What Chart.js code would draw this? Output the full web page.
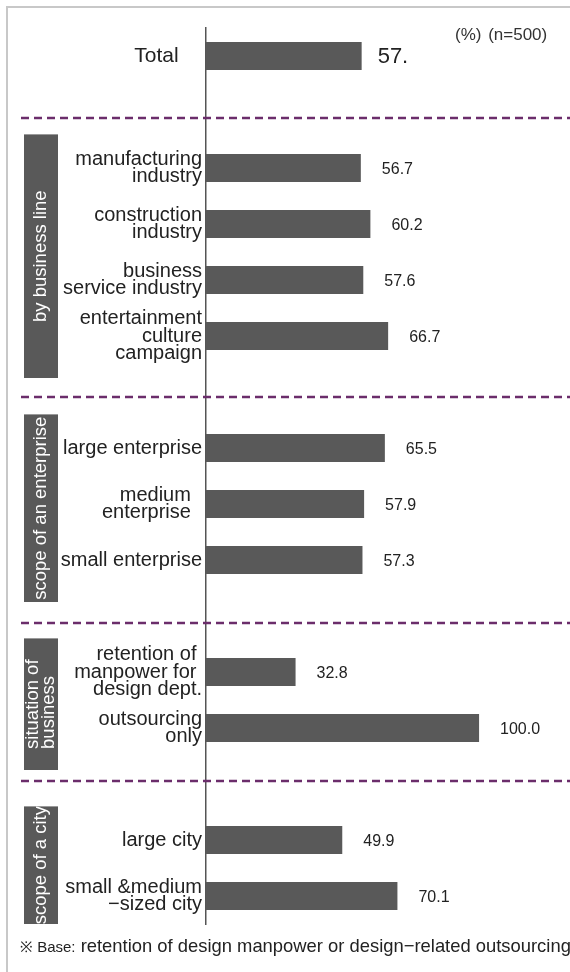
<!DOCTYPE html>
<html>
<head>
<meta charset="utf-8">
<script src="https://cdn.jsdelivr.net/npm/chart.js@4"></script>
<style>
  html, body { margin: 0; padding: 0; background: #fff; overflow: hidden; }
  #wrap { position: relative; width: 570px; height: 972px; }
  #unit { position: absolute; left: 455px; top: 25px; font: 17px "Liberation Sans", Arial, sans-serif; color: #333; word-spacing: 2px; }
  #note { position: absolute; left: 20px; top: 935px; font: 18.4px "Liberation Sans", Arial, sans-serif; color: #222; white-space: nowrap; }
  #note small { font-size: 15px; }
</style>
</head>
<body>
<div id="wrap">
  <canvas id="myChart" width="570" height="972"></canvas>
  <div id="unit">(%) (n=500)</div>
  <div id="note"><small>※ Base:</small> retention of design manpower or design−related outsourcing</div>
</div>
<script>
const NB = '\u00a0';

const categories = [
    ['Total' + NB + NB + NB + NB],
    '',
    ['manufacturing', 'industry'],
    ['construction', 'industry'],
    ['business', 'service industry'],
    ['entertainment', 'culture', 'campaign'],
    '',
    ['large enterprise'],
    ['medium' + NB + NB, 'enterprise' + NB + NB],
    ['small enterprise'],
    '',
    ['retention of' + NB, 'manpower for' + NB, 'design dept.'],
    ['outsourcing', 'only'],
    '',
    ['large city'],
    ['small &medium', '−sized city']
];

const values = [57, null, 56.7, 60.2, 57.6, 66.7, null, 65.5, 57.9, 57.3, null, 32.8, 100.0, null, 49.9, 70.1];

const shownValues = ['57.', '', '56.7', '60.2', '57.6', '66.7', '', '65.5', '57.9', '57.3', '', '32.8', '100.0', '', '49.9', '70.1'];

const groupNames = [['by business line'], ['scope of an enterprise'], ['situation of', 'business'], ['scope of a city']];
const groupRanges = [[2, 5], [7, 9], [11, 12], [14, 15]];

const FONT = '"Liberation Sans", Arial, sans-serif';

// grey frame round the whole figure
const framePlugin = {
    id: 'frame',
    beforeDraw(chart) {
        const ctx = chart.ctx;
        ctx.save();
        ctx.strokeStyle = '#c8c8c8';
        ctx.lineWidth = 2;
        ctx.strokeRect(7, 7, 700, 1100);
        ctx.restore();
    }
};

// dashed dividers and the dark boxes with rotated group names
const dividerShift = [6, 5, 7, -3];
const groupsPlugin = {
    id: 'groups',
    afterDatasetsDraw(chart) {
        const ctx = chart.ctx;
        const y = chart.scales.y;
        const area = chart.chartArea;

        ctx.save();
        ctx.strokeStyle = '#6b2d6b';
        ctx.lineWidth = 2.5;
        ctx.setLineDash([8, 5]);
        let n = 0;
        values.forEach((v, i) => {
            if (v !== null) return;
            const py = Math.round(y.getPixelForValue(i)) + dividerShift[n++];
            ctx.beginPath();
            ctx.moveTo(21, py);
            ctx.lineTo(570, py);
            ctx.stroke();
        });
        ctx.restore();

        groupRanges.forEach((r, g) => {
            const top = y.getPixelForValue(r[0] - 0.6);
            const bottom = Math.min(y.getPixelForValue(r[1] + 0.75), area.bottom);
            ctx.save();
            ctx.fillStyle = '#595959';
            ctx.fillRect(24, top, 34, bottom - top);
            ctx.beginPath();
            ctx.rect(24, top, 34, bottom - top);
            ctx.clip();

            const lines = groupNames[g];
            ctx.font = '18.5px ' + FONT;
            ctx.fillStyle = '#fff';
            ctx.textBaseline = 'middle';
            ctx.textAlign = 'left';
            const w = Math.max(...lines.map(t => ctx.measureText(t).width));
            const mid = (top + bottom) / 2;
            ctx.translate(41, mid);
            ctx.rotate(-Math.PI / 2);
            lines.forEach((t, k) => {
                const off = (k - (lines.length - 1) / 2) * 16;
                ctx.fillText(t, -w / 2, off);
            });
            ctx.restore();
        });
    }
};

// value text to the right of each bar
const valuesPlugin = {
    id: 'values',
    afterDatasetsDraw(chart) {
        const ctx = chart.ctx;
        const meta = chart.getDatasetMeta(0);
        ctx.save();
        ctx.fillStyle = '#222';
        ctx.textBaseline = 'middle';
        ctx.textAlign = 'left';
        meta.data.forEach((bar, i) => {
            if (values[i] === null) return;
            if (i === 0) {
                ctx.font = '22px ' + FONT;
                ctx.fillText(shownValues[i], bar.x + 16, bar.y + 1);
            } else {
                ctx.font = '16px ' + FONT;
                ctx.fillText(shownValues[i], bar.x + 21, bar.y + 2);
            }
        });
        ctx.restore();
    }
};

const ctx = document.getElementById('myChart').getContext('2d');
new Chart(ctx, {
    type: 'bar',
    data: {
        labels: categories,
        datasets: [{
            data: values,
            backgroundColor: '#595959',
            borderWidth: 0,
            barPercentage: 0.5,
            categoryPercentage: 1
        }]
    },
    options: {
        indexAxis: 'y',
        responsive: false,
        animation: false,
        layout: { padding: { top: 28, bottom: 48, right: 9, left: 0 } },
        plugins: {
            legend: { display: false },
            tooltip: { enabled: false }
        },
        scales: {
            x: { display: false, min: 0, max: 130 },
            y: {
                afterFit(scale) { scale.width = 206; },
                grid: { display: false, drawTicks: false },
                border: { display: true, color: '#555', width: 1.5 },
                ticks: {
                    autoSkip: false,
                    padding: 4,
                    color: '#222',
                    font: (c) => ({ family: FONT, size: c.index === 0 ? 21 : 20, lineHeight: 0.88 })
                }
            }
        }
    },
    plugins: [framePlugin, groupsPlugin, valuesPlugin]
});
</script>
</body>
</html>
